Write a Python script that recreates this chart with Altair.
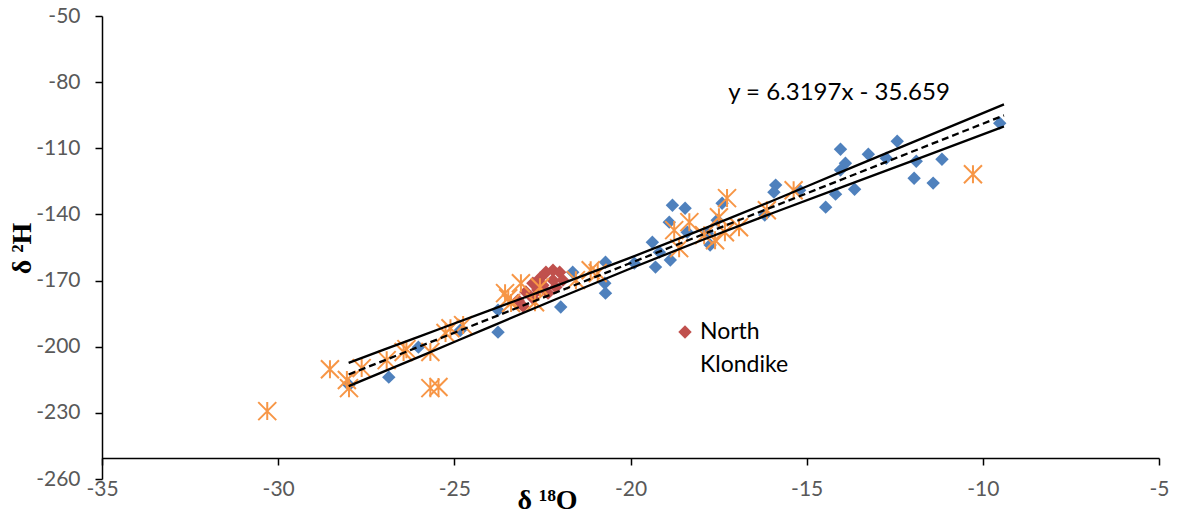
import altair as alt
import pandas as pd

# ---------------- data ----------------
blue_x = [-9.52, -12.43, -14.04, -13.25, -12.74, -11.89, -11.16, -13.90, -14.04, -11.95,
          -11.41, -13.64, -14.18, -14.46, -15.88, -15.93, -15.20, -16.19, -18.81, -18.45,
          -18.90, -18.39, -17.40, -17.54, -17.82, -17.74, -19.38, -19.18, -18.87, -19.29,
          -19.89, -20.71, -20.73, -20.71, -21.64, -21.98, -23.76, -23.76, -24.83, -26.02,
          -26.86, -27.99]
blue_y = [-98.6, -106.8, -110.4, -112.7, -114.5, -115.9, -115.0, -116.8, -119.9, -123.6,
          -125.8, -128.6, -130.8, -136.7, -126.7, -129.9, -129.0, -140.3, -135.8, -137.2,
          -143.5, -148.1, -134.9, -142.6, -148.5, -153.9, -152.6, -157.1, -160.7, -163.9,
          -162.1, -161.7, -171.2, -175.7, -166.2, -182.0, -183.4, -193.4, -192.5, -200.2,
          -213.8, -217.4]

orange_x = [-30.31, -28.53, -28.05, -27.99, -27.63, -26.92, -26.44, -26.36, -25.68, -25.68,
            -25.45, -25.25, -25.11, -24.75, -23.56, -23.47, -23.39, -23.11, -22.71, -22.57,
            -21.55, -21.13, -20.93, -17.26, -18.33, -18.76, -18.62, -17.91, -17.60, -17.49,
            -16.92, -17.32, -16.13, -15.37, -10.28]
orange_y = [-229.2, -210.2, -215.1, -218.8, -209.7, -206.1, -202.4, -201.1, -202.4, -218.8,
            -218.3, -193.8, -191.6, -190.2, -175.7, -178.0, -180.2, -171.2, -179.8, -173.0,
            -169.8, -165.3, -166.6, -132.6, -143.5, -147.1, -155.3, -149.4, -151.7, -141.3,
            -145.8, -148.1, -138.1, -129.0, -121.8]

nk_x = [-23.19, -23.05, -22.97, -22.77, -22.57, -22.40, -22.20, -22.01, -21.92, -22.12,
        -22.34, -22.63, -22.49, -22.77, -22.20]
nk_y = [-178.9, -181.6, -175.2, -171.2, -168.9, -166.2, -165.3, -166.2, -169.8, -173.0,
        -175.7, -174.3, -172.1, -178.0, -169.8]

# confidence band around the trendline
band_x = [-28, -26, -24, -22, -20, -18, -16, -14, -12, -9.4]
band_upper = [-207.3, -195.4, -183.5, -171.7, -159.6, -147.0, -134.0, -120.6, -107.3, -90.1]
band_lower = [-217.9, -204.6, -191.1, -177.7, -164.5, -151.8, -139.6, -127.6, -115.7, -100.1]

# trendline as printed on the chart
slope, intercept = 6.3197, -35.659
reg_x = [-28.0, -9.4]
eq_text = "y = 6.3197x - 35.659"

x_ticks = [-35, -30, -25, -20, -15, -10, -5]
y_ticks = [-260, -230, -200, -170, -140, -110, -80, -50]
legend_lines = ["North", "Klondike"]

# ---------------- chart ----------------
W, H = 1057, 463
BLUE, ORANGE, RED = "#4F81BD", "#F79646", "#C0504D"
LABEL_FONT = "Lato"
TITLE_FONT = "Liberation Serif"

xs = alt.Scale(domain=[-35, -5], nice=False, zero=False)
ys = alt.Scale(domain=[-260, -50], nice=False, zero=False)

x_axis = alt.Axis(values=x_ticks, labelExpr="'' + datum.value", grid=False, offset=-21,
                  domainColor="black", domainWidth=1.5, tickColor="black", tickWidth=1.5,
                  tickSize=7, labelFont=LABEL_FONT, labelFontSize=21, labelColor="#595959",
                  labelPadding=13, labelFlush=False, labelOverlap=False,
                  title="δ ¹⁸O", titleFont=TITLE_FONT, titleFontWeight="bold",
                  titleFontSize=28, titleColor="black", titleX=445, titleY=42,
                  titleAlign="center", titleBaseline="middle")
y_axis = alt.Axis(values=y_ticks, labelExpr="'' + datum.value", grid=False,
                  domainColor="black", domainWidth=1.5, tickColor="black", tickWidth=1.5,
                  tickSize=7, labelFont=LABEL_FONT, labelFontSize=21, labelColor="#595959",
                  labelPadding=15, labelFlush=False, labelOverlap=False,
                  title="δ ²H", titleFont=TITLE_FONT, titleFontWeight="bold",
                  titleFontSize=28, titleColor="black", titleX=-80, titleY=232,
                  titleAngle=270, titleAlign="center", titleBaseline="middle")

blue_df = pd.DataFrame({"x": blue_x, "y": blue_y})
orange_df = pd.DataFrame({"x": orange_x, "y": orange_y})
nk_df = pd.DataFrame({"x": nk_x, "y": nk_y})
band_df = pd.concat([
    pd.DataFrame({"x": band_x, "y": band_upper, "side": "upper"}),
    pd.DataFrame({"x": band_x, "y": band_lower, "side": "lower"}),
])
reg_df = pd.DataFrame({"x": reg_x})

enc_x = alt.X("x:Q", scale=xs, axis=x_axis)
enc_y = alt.Y("y:Q", scale=ys, axis=y_axis)

blue = alt.Chart(blue_df).mark_point(shape="diamond", filled=True, size=180, color=BLUE,
                                     opacity=1).encode(x=enc_x, y=enc_y)
red = alt.Chart(nk_df).mark_point(shape="diamond", filled=True, size=180, color=RED,
                                  opacity=1).encode(x="x:Q", y="y:Q")
star = "M-1,-1L1,1M-1,1L1,-1M0,-1L0,1"
orange = alt.Chart(orange_df).mark_point(shape=star, filled=False, size=324, color=ORANGE,
                                         strokeWidth=2, opacity=1).encode(x="x:Q", y="y:Q")
band = alt.Chart(band_df).mark_line(color="black", strokeWidth=2.3,
                                    interpolate="monotone").encode(
    x="x:Q", y="y:Q", detail="side:N")
reg = alt.Chart(reg_df).transform_calculate(
    y=f"{slope} * datum.x + ({intercept})"
).mark_line(color="black", strokeWidth=2.3, strokeDash=[7, 4]).encode(x="x:Q", y="y:Q")

eq = alt.Chart(pd.DataFrame({"t": [eq_text]})).mark_text(
    font=LABEL_FONT, fontSize=24, color="black", align="center", baseline="middle"
).encode(x=alt.value(737), y=alt.value(77), text="t:N")

leg_sym = alt.Chart(pd.DataFrame({"k": ["North Klondike"]})).mark_point(
    shape="diamond", filled=True, size=180, color=RED, opacity=1
).encode(x=alt.value(583), y=alt.value(316))
leg_txt1 = alt.Chart(pd.DataFrame({"t": [legend_lines[0]]})).mark_text(
    font=LABEL_FONT, fontSize=23, color="black", align="left", baseline="middle"
).encode(x=alt.value(598), y=alt.value(316), text="t:N")
leg_txt2 = alt.Chart(pd.DataFrame({"t": [legend_lines[1]]})).mark_text(
    font=LABEL_FONT, fontSize=23, color="black", align="left", baseline="middle"
).encode(x=alt.value(598), y=alt.value(349), text="t:N")

chart = alt.layer(blue, red, orange, band, reg, eq, leg_sym, leg_txt1, leg_txt2).properties(
    width=W, height=H,
    padding={"left": 94, "top": 8, "right": 10, "bottom": 31},
    autosize=alt.AutoSizeParams(type="none"),
).configure_view(stroke=None)

chart.save("out.html", embed_options={"renderer": "svg", "actions": False})
